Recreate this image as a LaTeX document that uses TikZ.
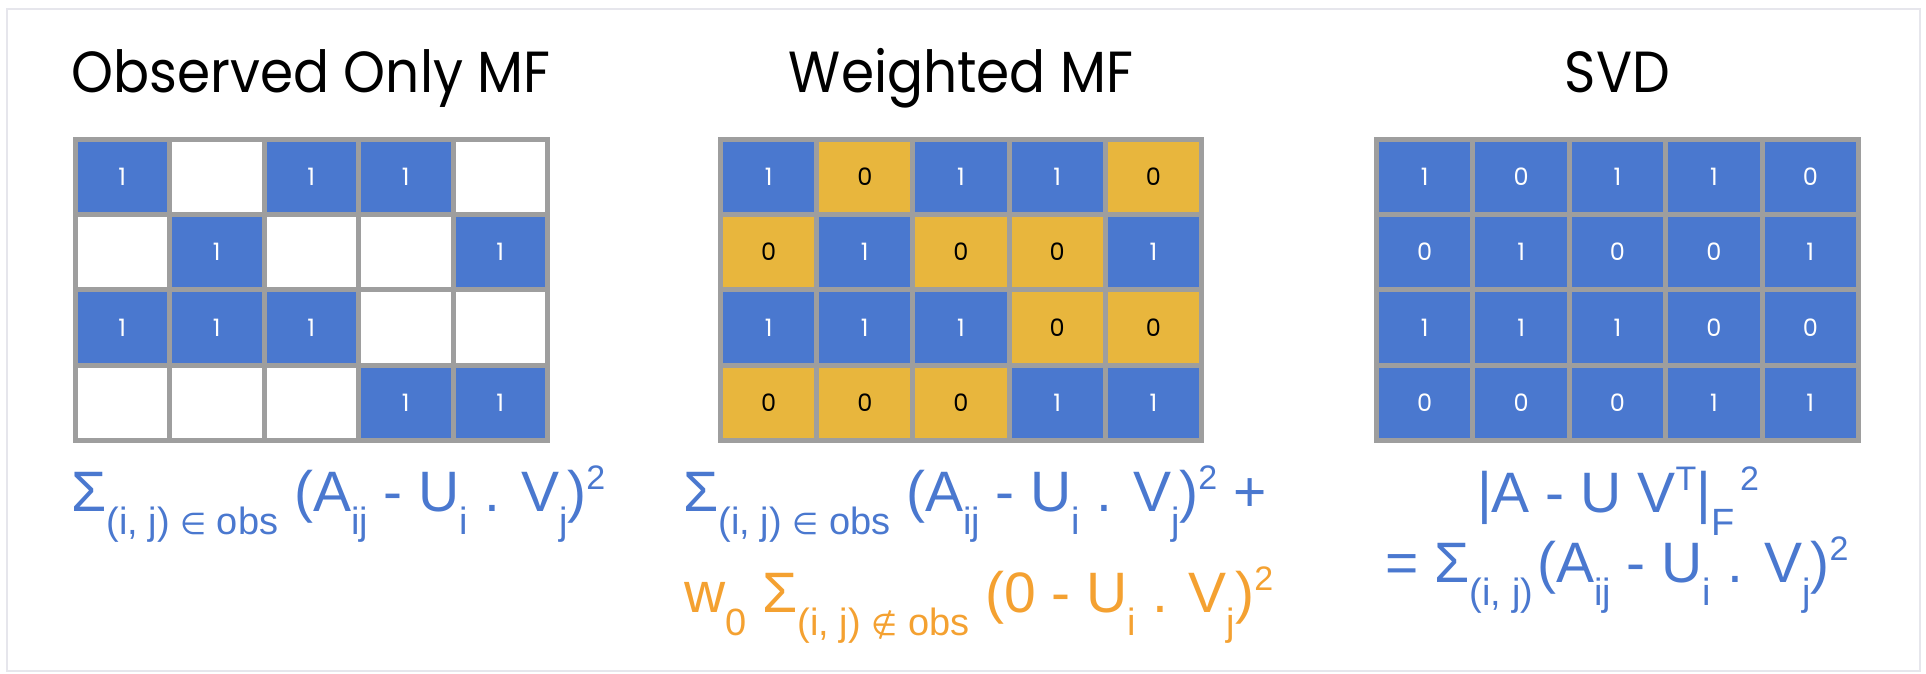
\documentclass[tikz,border=0pt]{standalone}
\usepackage{fontspec}
\setmainfont{Liberation Sans}
\newfontfamily\titlefont[FakeStretch=0.92]{Poppins}
\newfontfamily\digitfont{Poppins}
\newfontfamily\symbolfont{DejaVu Sans}
\definecolor{cellblue}{HTML}{4A78CF}
\definecolor{cellyellow}{HTML}{E8B63D}
\definecolor{gridgray}{HTML}{9E9E9E}
\definecolor{framegray}{HTML}{E6E6EC}
\definecolor{lossorange}{HTML}{F4A131}
\newcommand{\lowtxt}[1]{\raisebox{-23pt}{\fontsize{38}{38}\selectfont #1}}
\newcommand{\hightxt}[1]{\raisebox{22pt}{\fontsize{34}{34}\selectfont #1}}
\begin{document}
\begin{tikzpicture}[x=1pt, y=-1pt,
  cell/.style={draw=gridgray, line width=5pt, inner sep=0pt, minimum height=75.4pt, font=\digitfont\fontsize{24}{24}\selectfont},
  bluecell/.style={cell, fill=cellblue, text=white},
  yellowcell/.style={cell, fill=cellyellow, text=black},
  emptycell/.style={cell, fill=white},
  title/.style={anchor=base, font=\titlefont\fontsize{58}{58}\selectfont},
  loss/.style={anchor=base west, inner sep=0pt, font=\fontsize{57}{57}\selectfont, text=cellblue}]
% Set the cell widths of the three grids
\def\wone{94.5pt}
\def\wtwo{96.2pt}
\def\wthree{96.4pt}

\useasboundingbox (0,0) rectangle (1926,674);
\draw[framegray, line width=2pt] (7,9) rectangle (1920,671);

% Titles
\node[title] (tobs) at (311,93) {Observed Only MF};
\node[title] (twmf) at (961,93) {Weighted MF};
\node[title] (tsvd) at (1617.5,93) {SVD};

% Observed only grid
\node[bluecell, minimum width=\wone] (o11) at (122.25,176.7) {1};
\node[emptycell, minimum width=\wone] (o12) at (216.75,176.7) {};
\node[bluecell, minimum width=\wone] (o13) at (311.25,176.7) {1};
\node[bluecell, minimum width=\wone] (o14) at (405.75,176.7) {1};
\node[emptycell, minimum width=\wone] (o15) at (500.25,176.7) {};
\node[emptycell, minimum width=\wone] (o21) at (122.25,252.1) {};
\node[bluecell, minimum width=\wone] (o22) at (216.75,252.1) {1};
\node[emptycell, minimum width=\wone] (o23) at (311.25,252.1) {};
\node[emptycell, minimum width=\wone] (o24) at (405.75,252.1) {};
\node[bluecell, minimum width=\wone] (o25) at (500.25,252.1) {1};
\node[bluecell, minimum width=\wone] (o31) at (122.25,327.4) {1};
\node[bluecell, minimum width=\wone] (o32) at (216.75,327.4) {1};
\node[bluecell, minimum width=\wone] (o33) at (311.25,327.4) {1};
\node[emptycell, minimum width=\wone] (o34) at (405.75,327.4) {};
\node[emptycell, minimum width=\wone] (o35) at (500.25,327.4) {};
\node[emptycell, minimum width=\wone] (o41) at (122.25,402.8) {};
\node[emptycell, minimum width=\wone] (o42) at (216.75,402.8) {};
\node[emptycell, minimum width=\wone] (o43) at (311.25,402.8) {};
\node[bluecell, minimum width=\wone] (o44) at (405.75,402.8) {1};
\node[bluecell, minimum width=\wone] (o45) at (500.25,402.8) {1};

% Weighted grid
\node[bluecell, minimum width=\wtwo] (w11) at (768.6,176.7) {1};
\node[yellowcell, minimum width=\wtwo] (w12) at (864.8,176.7) {0};
\node[bluecell, minimum width=\wtwo] (w13) at (961.0,176.7) {1};
\node[bluecell, minimum width=\wtwo] (w14) at (1057.2,176.7) {1};
\node[yellowcell, minimum width=\wtwo] (w15) at (1153.4,176.7) {0};
\node[yellowcell, minimum width=\wtwo] (w21) at (768.6,252.1) {0};
\node[bluecell, minimum width=\wtwo] (w22) at (864.8,252.1) {1};
\node[yellowcell, minimum width=\wtwo] (w23) at (961.0,252.1) {0};
\node[yellowcell, minimum width=\wtwo] (w24) at (1057.2,252.1) {0};
\node[bluecell, minimum width=\wtwo] (w25) at (1153.4,252.1) {1};
\node[bluecell, minimum width=\wtwo] (w31) at (768.6,327.4) {1};
\node[bluecell, minimum width=\wtwo] (w32) at (864.8,327.4) {1};
\node[bluecell, minimum width=\wtwo] (w33) at (961.0,327.4) {1};
\node[yellowcell, minimum width=\wtwo] (w34) at (1057.2,327.4) {0};
\node[yellowcell, minimum width=\wtwo] (w35) at (1153.4,327.4) {0};
\node[yellowcell, minimum width=\wtwo] (w41) at (768.6,402.8) {0};
\node[yellowcell, minimum width=\wtwo] (w42) at (864.8,402.8) {0};
\node[yellowcell, minimum width=\wtwo] (w43) at (961.0,402.8) {0};
\node[bluecell, minimum width=\wtwo] (w44) at (1057.2,402.8) {1};
\node[bluecell, minimum width=\wtwo] (w45) at (1153.4,402.8) {1};

% SVD grid
\node[bluecell, minimum width=\wthree] (s11) at (1424.7,176.7) {1};
\node[bluecell, minimum width=\wthree] (s12) at (1521.1,176.7) {0};
\node[bluecell, minimum width=\wthree] (s13) at (1617.5,176.7) {1};
\node[bluecell, minimum width=\wthree] (s14) at (1713.9,176.7) {1};
\node[bluecell, minimum width=\wthree] (s15) at (1810.3,176.7) {0};
\node[bluecell, minimum width=\wthree] (s21) at (1424.7,252.1) {0};
\node[bluecell, minimum width=\wthree] (s22) at (1521.1,252.1) {1};
\node[bluecell, minimum width=\wthree] (s23) at (1617.5,252.1) {0};
\node[bluecell, minimum width=\wthree] (s24) at (1713.9,252.1) {0};
\node[bluecell, minimum width=\wthree] (s25) at (1810.3,252.1) {1};
\node[bluecell, minimum width=\wthree] (s31) at (1424.7,327.4) {1};
\node[bluecell, minimum width=\wthree] (s32) at (1521.1,327.4) {1};
\node[bluecell, minimum width=\wthree] (s33) at (1617.5,327.4) {1};
\node[bluecell, minimum width=\wthree] (s34) at (1713.9,327.4) {0};
\node[bluecell, minimum width=\wthree] (s35) at (1810.3,327.4) {0};
\node[bluecell, minimum width=\wthree] (s41) at (1424.7,402.8) {0};
\node[bluecell, minimum width=\wthree] (s42) at (1521.1,402.8) {0};
\node[bluecell, minimum width=\wthree] (s43) at (1617.5,402.8) {0};
\node[bluecell, minimum width=\wthree] (s44) at (1713.9,402.8) {1};
\node[bluecell, minimum width=\wthree] (s45) at (1810.3,402.8) {1};

% Loss terms
\node[loss] (lobs) at (71,511) {Σ\lowtxt{(i, j) {\symbolfont\fontsize{30}{30}\selectfont ∈} obs} (A\lowtxt{ij} - U\lowtxt{i} . V\lowtxt{j})\hightxt{2}};
\node[loss] (lwone) at (683,511) {Σ\lowtxt{(i, j) {\symbolfont\fontsize{30}{30}\selectfont ∈} obs} (A\lowtxt{ij} - U\lowtxt{i} . V\lowtxt{j})\hightxt{2} +};
\node[loss, text=lossorange] (lwtwo) at (684,612) {w\lowtxt{0} Σ\lowtxt{(i, j) {\symbolfont\fontsize{30}{30}\selectfont ∉} obs} (0 - U\lowtxt{i} . V\lowtxt{j})\hightxt{2}};
\node[loss, anchor=base] (lsone) at (1618,512) {|A - U V\hightxt{T}|\lowtxt{F}\hightxt{\,2}};
\node[loss, anchor=base] (lstwo) at (1617,582) {= Σ\lowtxt{(i, j)}\hspace{4pt}(A\lowtxt{ij} - U\lowtxt{i} . V\lowtxt{j})\hightxt{2}};
\end{tikzpicture}
\end{document}
